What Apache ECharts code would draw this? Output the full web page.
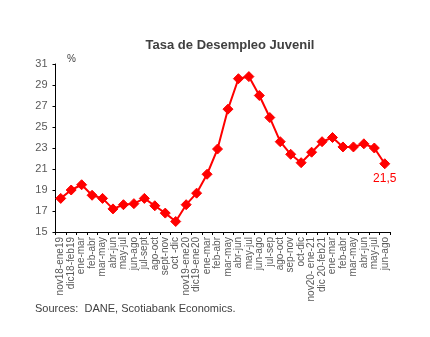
<!DOCTYPE html>
<html>
<head>
<meta charset="utf-8">
<script src="https://cdn.jsdelivr.net/npm/echarts@6/dist/echarts.min.js"></script>
<style>
html,body{margin:0;padding:0;background:#fff;}
#c{width:430px;height:337px;}
</style>
</head>
<body>
<div id="c"></div>
<script>
var categories = [
  "nov18-ene19","dic18-feb19","ene-mar","feb-abr","mar-may","abr-jun","may-jul","jun-ago","jul-sept","ago-oct","sept-nov","oct -dic",
  "nov19-ene20","dic19-ene20","ene-mar","feb-abr","mar-may","abr-jun","may-jul","jun-ago","jul-sep","ago-oct","sep-nov","oct-dic",
  "nov20- ene-21","dic 20-feb21","ene-mar","feb-abr","mar-may","abr-jun","may-jul","jun-ago"
];
var values = [
  18.2,19.0,19.5,18.5,18.2,17.2,17.6,17.7,18.2,17.5,16.8,16.0,
  17.6,18.7,20.5,22.9,26.7,29.6,29.8,28.0,25.9,23.6,22.4,21.6,
  22.6,23.6,24.0,23.1,23.1,23.4,23.0,21.5
];
var yMin = 15, yMax = 31, yStep = 2;
var titleText = "Tasa de Desempleo Juvenil";
var unitText = "%";
var sourceText = "Sources:  DANE, Scotiabank Economics.";
var lastLabel = "21,5";

var chart = echarts.init(document.getElementById('c'), null, {renderer:'canvas'});
var font = "'Liberation Sans', Arial, sans-serif";
var seriesData = values.map(function(v, i){
  if (i === values.length - 1) {
    return {value: v, label: {show: true, position: 'bottom', distance: 3, formatter: lastLabel,
      color: '#FF0000', fontSize: 12, fontFamily: font}};
  }
  return v;
});
chart.setOption({
  animation: false,
  backgroundColor: '#ffffff',
  title: {
    text: titleText, left: 225, top: 34, textAlign: 'center',
    textStyle: {fontFamily: font, fontSize: 13, fontWeight: 'bold', color: '#404040'}
  },
  graphic: [
    {type: 'text', left: 67, top: 54, style: {text: unitText, font: "10px " + font, fill: '#404040'}},
    {type: 'text', left: 35, top: 303, style: {text: sourceText, font: "11px " + font, fill: '#404040'}}
  ],
  grid: {left: 55.5, right: 40, top: 64, bottom: 105, containLabel: false},
  xAxis: {
    type: 'category', data: categories, boundaryGap: true,
    axisLine: {lineStyle: {color: '#000', width: 1}},
    axisTick: {show: true, inside: false, length: 3, alignWithLabel: false, lineStyle: {color: '#000'}},
    axisLabel: {rotate: 90, interval: 0, fontSize: 10, fontFamily: font, color: '#595959', margin: 5}
  },
  yAxis: {
    type: 'value', min: yMin, max: yMax, interval: yStep,
    splitLine: {show: false},
    axisLine: {show: true, lineStyle: {color: '#000', width: 1}},
    axisTick: {show: true, inside: false, length: 3, lineStyle: {color: '#000'}},
    axisLabel: {fontSize: 11, fontFamily: font, color: '#595959', margin: 8}
  },
  series: [{
    type: 'line', data: seriesData,
    symbol: 'diamond', symbolSize: 10, showAllSymbol: true,
    lineStyle: {color: '#FF0000', width: 2},
    itemStyle: {color: '#FF0000', borderColor: '#FF0000'}
  }]
});
</script>
</body>
</html>
